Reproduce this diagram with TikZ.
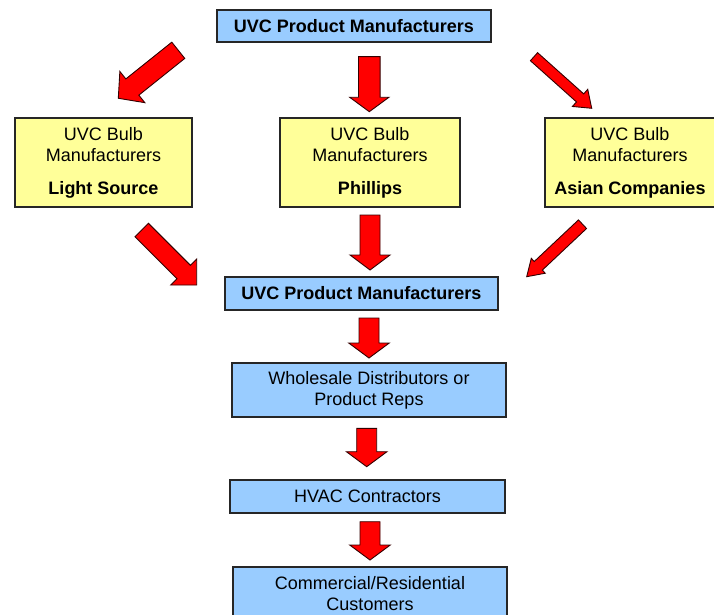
\documentclass[tikz,border=0pt]{standalone}
\usepackage{fontspec}
\setmainfont{Liberation Sans}
\usepackage{tikz}
\usetikzlibrary{calc, positioning}
\definecolor{boxblue}{HTML}{99CCFF}
\definecolor{boxyellow}{HTML}{FFFF99}
\definecolor{arrred}{HTML}{FF0000}
% block arrow: tail, tip, shaft half width, head half width, head length
\newcommand{\redarr}[5]{%
  \path ($(#2)!#5!(#1)$) coordinate (neck);
  \draw[flow] ($(#1)!#3!90:(#2)$) -- ($(neck)!#3!-90:(#1)$) -- ($(neck)!#4!-90:(#1)$)
    -- (#2) -- ($(neck)!#4!90:(#1)$) -- ($(neck)!#3!90:(#1)$) -- ($(#1)!#3!-90:(#2)$) -- cycle;
}
\tikzset{
  bluebox/.style ={draw=black!85, fill=boxblue, line width=1.2pt, inner sep=0pt, align=center,
                   font=\fontsize{18}{21}\selectfont},
  ylwbox/.style  ={draw=black!85, fill=boxyellow, line width=1.2pt, inner sep=0pt, align=center,
                   minimum height=89pt, font=\fontsize{18}{21}\selectfont},
  flow/.style    ={fill=arrred, draw=black!80!red, line width=0.9pt, line join=miter},
}

\begin{document}
\begin{tikzpicture}[x=1pt, y=-1pt]
  \useasboundingbox (0,0) rectangle (714,615);
  % boxes
  \node[bluebox, minimum width=274pt, minimum height=32pt] (top) at (354,26) {\textbf{UVC Product Manufacturers}};
  \node[ylwbox, minimum width=177pt] (lsrc) at (103.5,162.5) {UVC Bulb\\Manufacturers\\[12pt]\textbf{Light Source}};
  \node[ylwbox, minimum width=180pt] (phil) at (370,162.5)   {UVC Bulb\\Manufacturers\\[12pt]\textbf{Phillips}};
  \node[ylwbox, minimum width=170pt] (asia) at (630,162.5)   {UVC Bulb\\Manufacturers\\[12pt]\textbf{Asian Companies}};
  \node[bluebox, minimum width=273pt, minimum height=33pt] (prod) at (361.5,293.5) {\textbf{UVC Product Manufacturers}};
  \node[bluebox, minimum width=274pt, minimum height=54pt] (whsl) at (369,390) {Wholesale Distributors or\\Product Reps};
  \node[bluebox, minimum width=275pt, minimum height=33pt] (hvac) at (367.5,496.5) {HVAC Contractors};
  \node[bluebox, minimum width=274pt, minimum height=54pt] (cust) at (370,594) {Commercial/Residential\\Customers};
  % arrow ends
  \coordinate (t1) at (178.3,50.3);  \coordinate (p1) at (118.3,98.3);
  \coordinate (t2) at (369.3,56.7);  \coordinate (p2) at (369.3,111.7);
  \coordinate (t3) at (534,56.7);    \coordinate (p3) at (591.7,108.3);
  \coordinate (t4) at (141.7,230);   \coordinate (p4) at (196.7,285);
  \coordinate (t5) at (370,215);     \coordinate (p5) at (370,270);
  \coordinate (t6) at (582.5,224.2); \coordinate (p6) at (526.7,276.7);
  \coordinate (t7) at (369,318);     \coordinate (p7) at (369,358);
  \coordinate (t8) at (366.7,428.3); \coordinate (p8) at (366.7,466.7);
  \coordinate (t9) at (370,521.7);   \coordinate (p9) at (370,560);
  % arrows
  \redarr{t1}{p1}{10.4pt}{20pt}{18pt}
  \redarr{t2}{p2}{10.8pt}{19.6pt}{14.4pt}
  \redarr{t3}{p3}{5.4pt}{11.5pt}{15.6pt}
  \redarr{t4}{p4}{9.5pt}{18.4pt}{18.4pt}
  \redarr{t5}{p5}{10pt}{20pt}{15pt}
  \redarr{t6}{p6}{5.9pt}{10.2pt}{15.9pt}
  \redarr{t7}{p7}{10pt}{20.3pt}{15pt}
  \redarr{t8}{p8}{10pt}{20.3pt}{15pt}
  \redarr{t9}{p9}{10pt}{20.3pt}{15pt}
\end{tikzpicture}
\end{document}
